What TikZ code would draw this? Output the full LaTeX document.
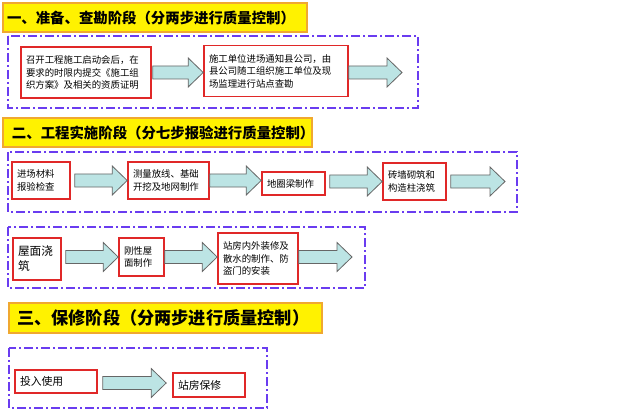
\documentclass[tikz,border=0pt]{standalone}
\usepackage{fontspec}
\usepackage{xcolor}
\usepackage{tikz}
\usetikzlibrary{calc}
\usetikzlibrary{positioning}
\newfontfamily\cjk{Noto Sans CJK SC}
\definecolor{framecol}{HTML}{6A3CF0}
\definecolor{boxred}{HTML}{E02828}
\definecolor{arrowfill}{HTML}{BCE4E4}
\definecolor{titleline}{HTML}{F0A830}
\tikzset{
    titlebox/.style = {rectangle, draw=titleline, fill=yellow, line width=1.4pt, align=left, inner xsep=4pt, font=\cjk\bfseries\fontsize{14.4}{17}\selectfont},
    stepbox/.style = {rectangle, draw=boxred, line width=1.6pt, fill=white, align=left, inner xsep=5pt, font=\cjk\fontsize{9.4}{12.5}\selectfont},
    stagebox/.style = {draw=framecol, line width=1.1pt, dash pattern=on 9pt off 3pt on 2pt off 3pt},
    blockarrow/.style = {draw=black!60, fill=arrowfill, line width=0.8pt},
}
\newcommand{\flowarrow}[2]{%
  \draw[blockarrow] let \p1=(#1), \p2=(#2) in
    (\x1,\y1+6.5pt) -- (\x2-15pt,\y1+6.5pt) -- (\x2-15pt,\y1+14.5pt) -- (\x2,\y1)
    -- (\x2-15pt,\y1-14.5pt) -- (\x2-15pt,\y1-6.5pt) -- (\x1,\y1-6.5pt) -- cycle;}

\begin{document}
\begin{tikzpicture}[x=1pt, y=-1pt]
\useasboundingbox (0,0) rectangle (640,417);
% stage one
\node[titlebox, text width=296pt, minimum height=29pt] at (155,17.5) (t1) {一、准备、查勘阶段（分两步进行质量控制）};
\draw[stagebox] (8,36) rectangle (418,108);
\node[stepbox, text width=120pt, minimum height=51pt] at (86,72.5) (a1) {召开工程施工启动会后，在\\要求的时限内提交《施工组\\织方案》及相关的资质证明};
\node[stepbox, text width=134pt, minimum height=51pt] at (276,71) (a2) {施工单位进场通知县公司，由\\县公司随工组织施工单位及现\\场监理进行站点查勘};
\coordinate (a3) at (402,72);
\flowarrow{[xshift=1pt]a1.east}{a2.west}
\flowarrow{[yshift=-1.5pt]a2.east}{a3}
% stage two
\node[titlebox, text width=301pt, minimum height=29pt] at (157.5,132.5) (t2) {\hspace{5pt}二、工程实施阶段（分七步报验进行质量控制）};
\draw[stagebox] (8,152) rectangle (517,212);
\node[stepbox, text width=48pt, minimum height=37pt] at (41,180.5) (b1) {进场材料\\报验检查};
\node[stepbox, text width=71pt, minimum height=37pt] at (168.5,180.5) (b2) {测量放线、基础\\开挖及地网制作};
\node[stepbox, text width=53pt, minimum height=23pt] at (293.5,183.5) (b3) {地圈梁制作};
\node[stepbox, text width=53pt, minimum height=37pt] at (414.5,181.5) (b4) {砖墙砌筑和\\构造柱浇筑};
\coordinate (b5) at (505,181);
\flowarrow{[xshift=4pt]b1.east}{b2.west}
\flowarrow{b2.east}{b3.west}
\flowarrow{[xshift=4pt,yshift=2pt]b3.east}{b4.west}
\flowarrow{[xshift=4pt]b4.east}{b5}
%
\draw[stagebox] (8,227) rectangle (365,288);
\node[stepbox, text width=38pt, minimum height=42pt, font=\cjk\fontsize{11.7}{15}\selectfont] at (37,259) (c1) {屋面浇\\筑};
\node[stepbox, text width=35pt, minimum height=38pt] at (141.5,257) (c2) {刚性屋\\面制作};
\node[stepbox, text width=70pt, minimum height=51pt] at (258,258.5) (c3) {站房内外装修及\\散水的制作、防\\盗门的安装};
\coordinate (c4) at (352,257);
\flowarrow{[xshift=4pt,yshift=2pt]c1.east}{c2.west}
\flowarrow{c2.east}{c3.west}
\flowarrow{[yshift=1.5pt]c3.east}{c4}
% stage three
\node[titlebox, text width=305pt, minimum height=30pt, font=\cjk\bfseries\fontsize{17.2}{20}\selectfont] at (165.5,318) (t3) {\hspace{4pt}三、保修阶段（分两步进行质量控制）};
\draw[stagebox] (9,348) rectangle (267,408);
\node[stepbox, text width=72pt, minimum height=23pt, font=\cjk\fontsize{10.8}{13}\selectfont] at (56,381.5) (d1) {投入使用};
\node[stepbox, text width=62pt, minimum height=24pt, font=\cjk\fontsize{10.8}{13}\selectfont] at (209,385) (d2) {站房保修};
\flowarrow{[xshift=5pt,yshift=-1.5pt]d1.east}{[xshift=-6pt]d2.west}
\end{tikzpicture}
\end{document}
